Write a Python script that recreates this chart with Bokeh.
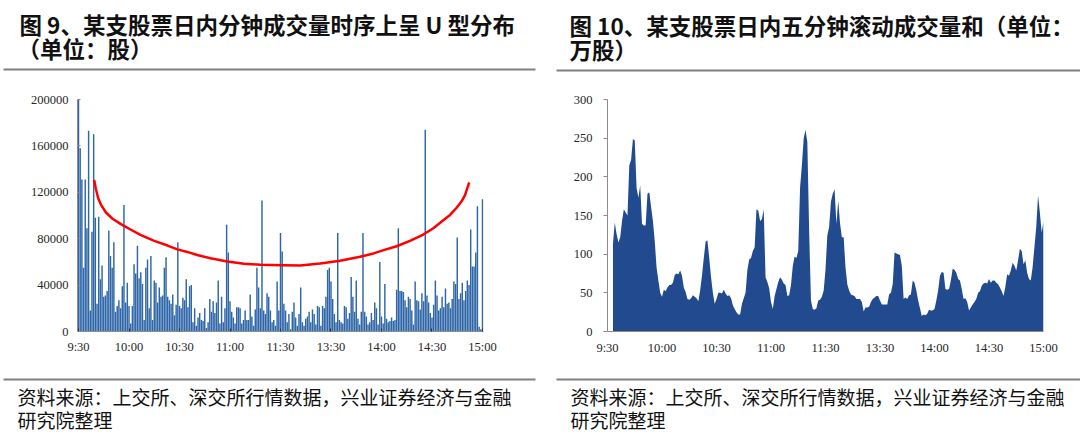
from bokeh.plotting import figure
from bokeh.layouts import row, column
from bokeh.models import FixedTicker, BasicTickFormatter, Range1d
from bokeh.core.properties import value
from bokeh.embed import file_html
from bokeh.resources import INLINE

# ---------------- data ----------------
tick_minutes = [0, 30, 60, 90, 120, 150, 180, 210, 240]
tick_labels = ["9:30", "10:00", "10:30", "11:00", "11:30", "13:30", "14:00", "14:30", "15:00"]

left_y_ticks = [0, 40000, 80000, 120000, 160000, 200000]
right_y_ticks = [0, 50, 100, 150, 200, 250, 300]

# minute volume (shares), minute index 0 = 9:30 ... 240 = 15:00
minute_volume = [
    200000, 158000, 131000, 55000, 131000, 89000, 173000, 18000, 86000, 170000,
    98000, 24000, 99000, 45000, 57000, 30000, 31000, 35000, 87000, 65000,
    55000, 77000, 17000, 22000, 27000, 20000, 39000, 109000, 25000, 42000,
    22000, 7000, 22000, 58000, 50000, 74000, 46000, 51000, 41000, 10000,
    55000, 62000, 20000, 65000, 10000, 44000, 42000, 25000, 38000, 30000,
    31000, 55000, 64000, 30000, 27000, 24000, 32000, 14000, 23000, 77000,
    22000, 20000, 29000, 27000, 45000, 21000, 39000, 40000, 8000, 20000,
    5000, 12000, 16000, 10000, 9000, 20000, 3000, 8000, 28000, 17000,
    26000, 16000, 25000, 44000, 7000, 30000, 8000, 20000, 92000, 68000,
    26000, 17000, 12000, 7000, 21000, 21000, 20000, 7000, 10000, 18000,
    10000, 10000, 32000, 13000, 5000, 19000, 55000, 38000, 20000, 113000,
    18000, 15000, 33000, 30000, 18000, 8000, 10000, 5000, 43000, 18000,
    85000,
    69000, 24000, 18000, 8000, 15000, 2000, 17000, 25000, 12000, 5000,
    15000, 38000, 8000, 5000, 11000, 13000, 17000, 8000, 19000, 15000,
    6000, 22000, 21000, 5000, 22000, 20000, 30000, 53000, 55000, 43000,
    28000, 15000, 8000, 85000, 10000, 8000, 7000, 22000, 21000, 11000,
    16000, 47000, 30000, 17000, 44000, 11000, 6000, 17000, 85000, 17000,
    13000, 6000, 8000, 16000, 10000, 25000, 20000, 6000, 60000, 13000,
    7000, 41000, 11000, 8000, 9000, 12000, 9000, 10000, 36000, 89000,
    35000, 35000, 34000, 27000, 21000, 30000, 28000, 18000, 6000, 43000,
    27000, 26000, 19000, 33000, 26000, 174000, 31000, 25000, 16000, 12000,
    23000, 44000, 31000, 18000, 20000, 30000, 21000, 37000, 24000, 25000,
    20000, 28000, 43000, 41000, 81000, 28000, 33000, 42000, 27000, 35000,
    44000, 40000, 88000, 56000, 56000, 68000, 108000, 4000, 2000, 114000,
]
minute_index = list(range(len(minute_volume)))

# red U-shaped guide curve (minute index, shares)
u_curve_minutes = [9.3, 10.3, 11.7, 13.3, 16.3, 20.2, 25.2, 31.1, 37.1, 45.0, 52.9, 58.8,
                   64.6, 70.5, 78.4, 88.4, 98.3, 108.1, 121.0, 131.7, 143.6, 155.4, 167.3,
                   175.3, 182.2, 189.0, 196.9, 204.8, 210.8, 216.7, 220.7, 224.6, 227.6,
                   229.6, 230.9, 232.1]
u_curve_values = [130700, 123100, 114900, 109400, 102600, 97200, 92600, 87700, 83000, 78100,
                  74100, 70800, 68600, 65900, 63200, 60400, 58500, 57500, 57200, 56900, 58600,
                  61000, 64500, 67300, 70600, 73500, 78100, 83600, 89000, 95900, 100500,
                  106700, 112200, 117600, 123100, 128500]

# 5-minute rolling volume sum (10k shares), minute 3 ... 240
rolling_first_minute = 3
rolling5_volume = [
    113, 141, 126, 115, 122, 143, 158,
    154, 150, 215, 222, 249, 247, 186, 173, 189, 139,
    137, 137, 178, 180, 161, 143, 117, 83, 66, 50,
    45, 54, 52, 57, 60, 60, 63, 73, 75, 74,
    79, 72, 57, 51, 42, 41, 43, 47, 45, 43,
    39, 53, 72, 95, 116, 118, 95, 70, 50, 36,
    42, 50, 50, 49, 54, 49, 46, 47, 43, 34,
    29, 25, 22, 22, 36, 43, 50, 80, 93, 95,
    104, 109, 158, 156, 143, 145, 158, 70, 64, 56,
    38, 29, 46, 55, 64, 70, 67, 62, 60, 46,
    47, 60, 85, 97, 95, 104, 186, 215, 250, 261,
    245, 130, 40, 29, 28, 30, 40, 41, 45, 53,
    80, 124, 135, 168, 178, 184, 139, 169, 140, 122,
    122, 83, 61, 53, 48, 47, 46, 42, 42, 42,
    38, 26, 31, 31, 32, 38, 42, 44, 46, 46,
    40, 35, 35, 35, 35, 48, 50, 61, 102, 101,
    100, 99, 85, 42, 44, 42, 47, 48, 66, 63,
    53, 40, 30, 20, 22, 21, 23, 28, 27, 27,
    29, 40, 53, 72, 77, 76, 55, 54, 55, 66,
    81, 80, 76, 68, 66, 55, 42, 43, 38, 27,
    31, 35, 38, 42, 50, 52, 59, 62, 63, 62,
    68, 63, 66, 66, 63, 61, 57, 52, 46, 58,
    74, 72, 79, 89, 85, 79, 92, 107, 104, 87,
    92, 76, 68, 66, 83, 109, 135, 176, 154, 128, 143,
]
rolling_minutes = list(range(rolling_first_minute, rolling_first_minute + len(rolling5_volume)))

title_left_1 = "图 9、某支股票日内分钟成交量时序上呈 U 型分布"
title_left_2 = "（单位：股）"
title_right_1 = "图 10、某支股票日内五分钟滚动成交量和（单位："
title_right_2 = "万股）"
source_1 = "资料来源：上交所、深交所行情数据，兴业证券经济与金融"
source_2 = "研究院整理"

# ---------------- styling ----------------
CW, CH = 1080, 437
HEAD_H, FOOT_TOP = 72, 377
CJK = "Noto Sans CJK SC"
SERIF = "Liberation Serif"
AXIS_GREY = "#8c8c8c"
RULE_GREY = "#808080"
TITLE_SIZE = 22.5
SOURCE_SIZE = 19


def blank_canvas(width, y_top, y_bottom):
    """A figure whose frame is the whole area, with canvas-pixel ranges (y downward)."""
    p = figure(width=width, height=y_bottom - y_top, output_backend="svg", toolbar_location=None,
               x_range=Range1d(0, width), y_range=Range1d(y_bottom, y_top),
               x_axis_location=None, y_axis_location=None,
               min_border=0, min_border_left=0, min_border_right=0,
               min_border_top=0, min_border_bottom=0)
    p.outline_line_color = None
    p.grid.visible = False
    p.background_fill_color = "white"
    p.border_fill_color = "white"
    return p


def put_text(p, x, y, text, size, bold=False):
    p.text(x=[x], y=[y], text=[text], text_font=value(CJK), text_font_size=value(f"{size}px"),
           text_font_style="bold" if bold else "normal", text_baseline="middle",
           text_align="left", text_color="#111111")


def put_rule(p, x0, x1, y):
    p.segment(x0=[x0], y0=[y], x1=[x1], y1=[y], line_color=RULE_GREY, line_width=2)


def chart_fig(width, fl, fr, ft, fb, x_range, y_range):
    h = FOOT_TOP - HEAD_H
    p = figure(width=width, height=h, output_backend="svg", toolbar_location=None,
               x_range=x_range, y_range=y_range,
               min_border_left=fl, min_border_right=width - fr,
               min_border_top=ft - HEAD_H, min_border_bottom=FOOT_TOP - fb)
    p.outline_line_color = None
    p.xgrid.visible = False
    p.ygrid.visible = False
    p.background_fill_color = "white"
    p.border_fill_color = "white"
    for ax in (p.xaxis[0], p.yaxis[0]):
        ax.axis_line_color = AXIS_GREY
        ax.axis_line_width = 1
        ax.major_tick_line_color = AXIS_GREY
        ax.minor_tick_line_color = None
        ax.major_label_text_font = SERIF
        ax.major_label_text_font_size = "12.5px"
        ax.major_label_text_color = "#262626"
    p.xaxis.ticker = FixedTicker(ticks=tick_minutes)
    p.xaxis.major_label_overrides = {t: l for t, l in zip(tick_minutes, tick_labels)}
    return p


# ---------------- header ----------------
head = blank_canvas(CW, 0, HEAD_H)
put_text(head, 19, 23.5, title_left_1, TITLE_SIZE, bold=True)
put_text(head, 17, 47.5, title_left_2, TITLE_SIZE, bold=True)
put_text(head, 569, 24, title_right_1, TITLE_SIZE, bold=True)
put_text(head, 569, 48, title_right_2, TITLE_SIZE, bold=True)
put_rule(head, 3, 535, 69)
put_rule(head, 556, 1080, 70)

# ---------------- left chart ----------------
p1 = chart_fig(540, 77, 483, 92, 337, Range1d(-0.6, 240.6), Range1d(0, 200000))
p1.vbar(x=minute_index, top=minute_volume, width=0.86, bottom=0,
        fill_color="#2E66A8", line_color=None)
p1.line(u_curve_minutes, u_curve_values, line_color="#FF0000", line_width=2.5, line_join="round")
p1.yaxis.ticker = FixedTicker(ticks=left_y_ticks)
p1.yaxis.formatter = BasicTickFormatter(use_scientific=False)
p1.yaxis.major_tick_in = 3
p1.yaxis.major_tick_out = 0
p1.yaxis.major_label_standoff = 9
p1.xaxis.major_tick_in = 3
p1.xaxis.major_tick_out = 0
p1.xaxis.major_tick_line_color = "#333333"
p1.xaxis.major_label_standoff = 8

# ---------------- right chart ----------------
p2 = chart_fig(540, 67, 503, 99, 331, Range1d(0, 240), Range1d(0, 300))
p2.varea(x=rolling_minutes, y1=0, y2=rolling5_volume, fill_color="#214B8E")
p2.yaxis.ticker = FixedTicker(ticks=right_y_ticks)
p2.yaxis.major_tick_in = 0
p2.yaxis.major_tick_out = 4
p2.yaxis.major_label_standoff = 11
p2.xaxis.major_tick_in = 0
p2.xaxis.major_tick_out = 0
p2.xaxis.major_label_standoff = 9

# ---------------- footer ----------------
foot = blank_canvas(CW, FOOT_TOP, CH)
put_rule(foot, 3, 535, 379)
put_rule(foot, 556, 1080, 379)
put_text(foot, 17, 395.5, source_1, SOURCE_SIZE)
put_text(foot, 17, 419, source_2, SOURCE_SIZE)
put_text(foot, 570, 395.5, source_1, SOURCE_SIZE)
put_text(foot, 570, 419, source_2, SOURCE_SIZE)

layout = column(head, row(p1, p2), foot)
open("out.html", "w").write(file_html(layout, INLINE))
